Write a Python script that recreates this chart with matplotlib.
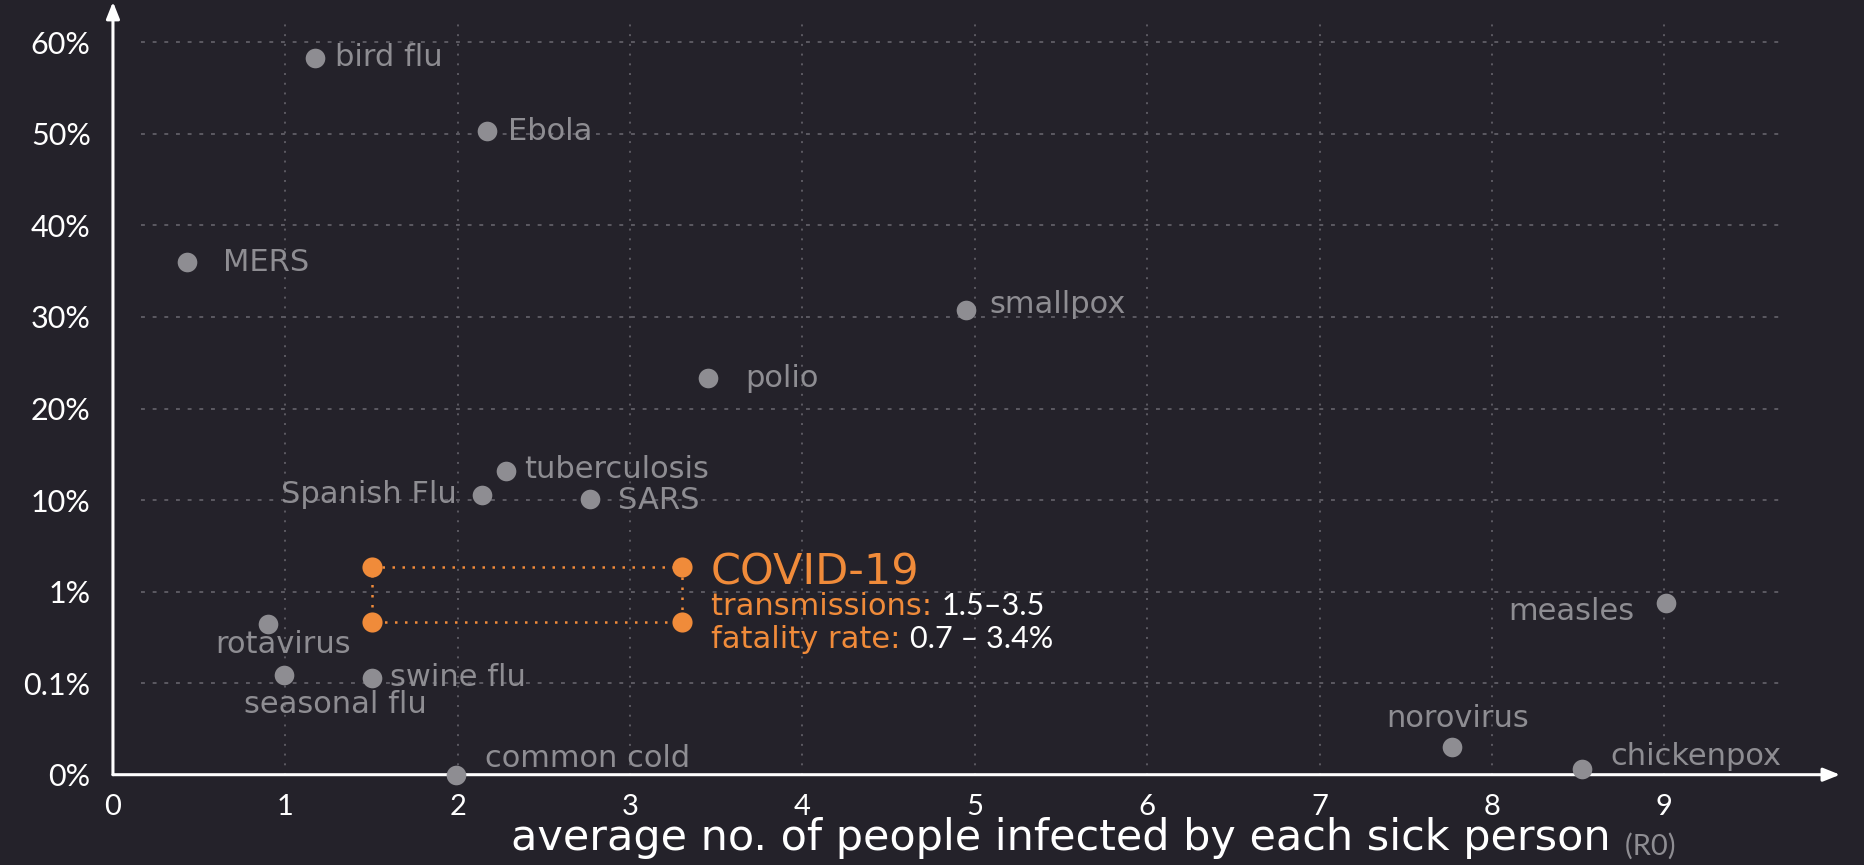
import numpy as np
import matplotlib
matplotlib.use("Agg")
import matplotlib.pyplot as plt

# disease data: R0 (x) and fatality rate in % (y)
names = ["bird flu", "Ebola", "MERS", "smallpox", "polio", "tuberculosis",
         "Spanish Flu", "SARS", "rotavirus", "swine flu", "seasonal flu",
         "common cold", "measles", "norovirus", "chickenpox"]
r0 = [1.17, 2.17, 0.43, 4.95, 3.45, 2.28, 2.14, 2.77, 0.90, 1.50, 0.99,
      1.99, 9.01, 7.77, 8.52]
fatality = [58.3, 50.3, 36.0, 30.8, 23.3, 13.2, 10.6, 10.1, 0.68, 0.155,
            0.18, 0.0, 0.89, 0.03, 0.006]

# label offsets (points) and alignment
offsets = [(15, 0), (15, 0), (26, 0), (17, 4), (27, 0), (13, 1), (-18, 0),
           (20, -1), (11, -15), (13, 0), (37, -21), (21, 12), (-23, -6),
           (4, 21), (21, 9)]
aligns = ["left", "left", "left", "left", "left", "left", "right", "left",
          "center", "left", "center", "left", "right", "center", "left"]

covid_r0 = [1.5, 3.3]
covid_fatality = [0.7, 3.4]

y_ticks = [0, 0.1, 1, 10, 20, 30, 40, 50, 60]
y_tick_labels = ["0%", "0.1%", "1%", "10%", "20%", "30%", "40%", "50%", "60%"]
x_ticks = list(range(10))

BG = "#24222a"
GREY = "#8e8d92"
ORANGE = "#f08b3a"
GRID = "#5c5a62"
WIDE = ["DejaVu Sans"]

plt.rcParams["font.family"] = ["Lato", "DejaVu Sans"]

# piecewise scale: every tick step gets the same height
scale_vals = [-0.1] + y_ticks + [70]
scale_pos = list(range(-1, len(y_ticks) + 1))


def fwd(v):
    return np.interp(v, scale_vals, scale_pos)


def inv(p):
    return np.interp(p, scale_pos, scale_vals)


fig = plt.figure(figsize=(18.64, 8.65), dpi=100, facecolor=BG)
ax = fig.add_axes([0.0606, 0.1044, 0.9247, 0.889])
ax.set_facecolor(BG)
ax.set_yscale("function", functions=(fwd, inv))
ax.set_xlim(0, 10)
ax.set_ylim(0, inv(8.4))

for s in ax.spines.values():
    s.set_visible(False)

ax.set_yticks(y_ticks)
ax.set_yticklabels(y_tick_labels)
ax.set_xticks(x_ticks)
ax.tick_params(axis="both", length=0, colors="white")
ax.tick_params(axis="y", pad=16, labelsize=22)
ax.tick_params(axis="x", pad=14, labelsize=21)
ax.yaxis.set_minor_locator(matplotlib.ticker.NullLocator())

# grid
ax.vlines(x_ticks[1:], 0, inv(8.25), colors=GRID, linestyles=(0, (1, 4)), lw=1.4, zorder=1)
ax.hlines(y_ticks[1:], 0.16, 9.7, colors=GRID, linestyles=(0, (2, 4)), lw=1.4, zorder=1)

# axis arrows
arrow = dict(arrowstyle="-|>,head_length=1.0,head_width=0.4", color="white", lw=2.2,
             shrinkA=0, shrinkB=0)
ax.annotate("", xy=(0, 1.005), xytext=(0, 0), xycoords="axes fraction",
            arrowprops=arrow, annotation_clip=False)
ax.annotate("", xy=(1.002, 0), xytext=(0, 0), xycoords="axes fraction",
            arrowprops=arrow, annotation_clip=False)

# diseases
ax.scatter(r0, fatality, s=200, color=GREY, zorder=3, clip_on=False, linewidths=0)
for n, x, y, off, ha in zip(names, r0, fatality, offsets, aligns):
    ax.annotate(n, (x, y), xytext=off, textcoords="offset points", ha=ha,
                va="center", color=GREY, fontsize=22, family=WIDE)

# COVID-19 box
bx = [covid_r0[0], covid_r0[1], covid_r0[1], covid_r0[0], covid_r0[0]]
by = [covid_fatality[1], covid_fatality[1], covid_fatality[0], covid_fatality[0],
      covid_fatality[1]]
ax.plot(bx, by, color=ORANGE, ls=(0, (1, 3)), lw=1.8, zorder=2)
cx = [covid_r0[0], covid_r0[1], covid_r0[0], covid_r0[1]]
cy = [covid_fatality[1], covid_fatality[1], covid_fatality[0], covid_fatality[0]]
ax.scatter(cx, cy, s=210, color=ORANGE, zorder=4, linewidths=0)

top_right = (covid_r0[1], covid_fatality[1])
ax.annotate("COVID-19", top_right, xytext=(21, -4), textcoords="offset points",
            ha="left", va="center", color=ORANGE, fontsize=31, family=WIDE)
t1 = ax.annotate("transmissions: ", top_right, xytext=(21, -28),
                 textcoords="offset points", ha="left", va="center",
                 color=ORANGE, fontsize=22, family=WIDE)
ax.annotate("1.5\u20133.5", xy=(1, 0.5), xycoords=t1, ha="left", va="center",
            color="white", fontsize=22)
t2 = ax.annotate("fatality rate: ", top_right, xytext=(21, -52),
                 textcoords="offset points", ha="left", va="center",
                 color=ORANGE, fontsize=22, family=WIDE)
ax.annotate("0.7 \u2013 3.4%", xy=(1, 0.5), xycoords=t2, ha="left", va="center",
            color="white", fontsize=22)

# x axis title
xl = fig.text(0.864, 0.017, "average no. of people infected by each sick person",
              ha="right", va="baseline", color="white", fontsize=31, family=WIDE)
ax.annotate("  (R0)", xy=(1, 0.3), xycoords=xl, ha="left", va="center",
            color=GREY, fontsize=21)

fig.savefig("out.png", facecolor=BG)
